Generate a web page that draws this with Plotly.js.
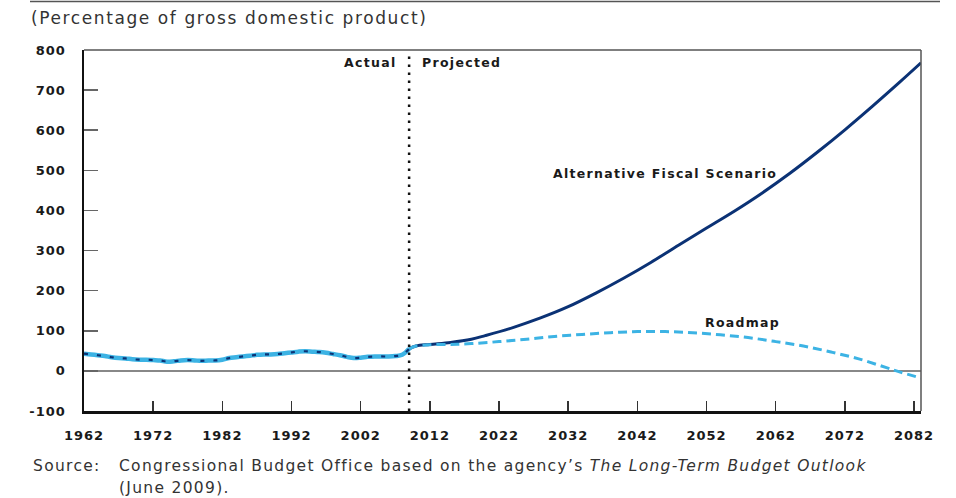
<!DOCTYPE html>
<html>
<head>
<meta charset="utf-8">
<script src="https://cdn.plot.ly/plotly-3.0.1.min.js"></script>
<style>
html,body{margin:0;padding:0;background:#fff;}
#chart{width:956px;height:498px;}
#chart .gtitle{letter-spacing:1.6px;}
#chart .xtick text, #chart .ytick text{letter-spacing:1px;}
</style>
</head>
<body>
<div id="chart"></div>
<script>
// ---- Data (percentage of GDP) ----
const histYears = [1962,1963,1964,1965,1966,1967,1968,1969,1970,1971,1972,1973,1974,1975,1976,1977,1978,1979,1980,1981,1982,1983,1984,1985,1986,1987,1988,1989,1990,1991,1992,1993,1994,1995,1996,1997,1998,1999,2000,2001,2002,2003,2004,2005,2006,2007,2008,2009];
const histValues = [43,41,39,37,34,32,31,29,28,28,27,26,23,24,26,27,26,25,26,26,28,32,34,36,38,40,41,41,42,44,46,48,49,48,47,45,42,39,35,32,33,35,36,36,36,37,40,55];

const altYears = [2009,2010,2012,2015,2018,2020,2024,2028,2032,2036,2040,2044,2048,2052,2056,2060,2064,2068,2072,2076,2080,2083];
const altValues = [55,62,66,71,79,88,108,132,160,194,231,271,314,356,398,443,492,545,601,660,721,768];

const roadYears = [2009,2010,2012,2015,2018,2022,2026,2030,2034,2038,2042,2046,2050,2054,2058,2062,2066,2070,2074,2078,2080,2083];
const roadValues = [55,62,65,66,68,73,79,86,91,95,98,98,95,90,83,73,62,47,30,8,-3,-18];

const xTickVals = [1962,1972,1982,1992,2002,2012,2022,2032,2042,2052,2062,2072,2082];
const yTickVals = [-100,0,100,200,300,400,500,600,700,800];
const yTickText = ['-100','0','100','200','300','400','500','600','700','800'];

const actualEnd = histYears[histYears.length - 1];

// ---- Styles ----
const navy = '#0b3275';
const lightBlue = '#3cb3e4';
const fam = 'DejaVu Sans, Verdana, sans-serif';
const tickFont = {family: fam, size: 13, color: '#1a1a1a', weight: 'bold'};
const labelFont = {family: fam, size: 12.5, color: '#1a1a1a', weight: 'bold'};
const textFont = {family: fam, size: 15.5, color: '#333'};
const sp = t => '<span style="letter-spacing:1.3px">' + t + '</span>';

const traces = [
  {x: histYears, y: histValues, mode: 'lines', line: {color: lightBlue, width: 4.5, shape: 'spline', smoothing: 1}, hoverinfo: 'skip'},
  {x: histYears, y: histValues, mode: 'lines', line: {color: navy, width: 2.2, dash: '4px,9px', shape: 'spline', smoothing: 1}, hoverinfo: 'skip'},
  {x: altYears, y: altValues, mode: 'lines', line: {color: navy, width: 3, shape: 'spline', smoothing: 1}},
  {x: roadYears, y: roadValues, mode: 'lines', line: {color: lightBlue, width: 3, dash: '9px,5px', shape: 'spline', smoothing: 1}}
];

const px = v => (v - 84) / 837;
const py = v => (411 - v) / 361;

const layout = {
  width: 956, height: 498,
  margin: {l: 84, r: 35, t: 50, b: 87},
  paper_bgcolor: '#fff', plot_bgcolor: '#fff',
  showlegend: false,
  title: {
    text: '(Percentage of gross domestic product)',
    font: {family: fam, size: 17, color: '#333'},
    xref: 'container', yref: 'container',
    x: 31/956, xanchor: 'left', y: 1 - 18/498, yanchor: 'middle'
  },
  xaxis: {
    range: [1962, 2083],
    tickmode: 'array', tickvals: xTickVals,
    ticks: 'inside', ticklen: 10, tickwidth: 1.5, tickcolor: '#333',
    showgrid: false, zeroline: false,
    showline: true, linecolor: '#111', linewidth: 2.5,
    tickfont: tickFont, ticklabelstandoff: 11,
    fixedrange: true
  },
  yaxis: {
    range: [-100, 800],
    tickmode: 'array', tickvals: yTickVals, ticktext: yTickText,
    ticks: 'inside', ticklen: 14, tickwidth: 1.5, tickcolor: '#666',
    showgrid: false,
    zeroline: true, zerolinecolor: '#888', zerolinewidth: 1.5,
    showline: true, linecolor: '#111', linewidth: 2.5,
    tickfont: tickFont, ticklabelstandoff: 13,
    fixedrange: true
  },
  shapes: [
    {type: 'line', xref: 'paper', yref: 'paper', x0: 0, x1: 1, y0: 1, y1: 1, line: {color: '#555', width: 1.5}},
    {type: 'line', xref: 'paper', yref: 'paper', x0: 1, x1: 1, y0: 0, y1: 1, line: {color: '#555', width: 1.5}},
    {type: 'line', xref: 'x', yref: 'paper', x0: actualEnd, x1: actualEnd, y0: 0, y1: 0.985, line: {color: '#111', width: 2.5, dash: '2.5px,5.5px'}},
    {type: 'line', xref: 'paper', yref: 'paper', x0: px(30), x1: px(940), y0: py(1.5), y1: py(1.5), line: {color: '#555', width: 1.5}}
  ],
  annotations: [
    {text: sp('Actual'), xref: 'paper', yref: 'paper', x: px(398), y: py(62), xanchor: 'right', yanchor: 'middle', showarrow: false, font: labelFont},
    {text: sp('Projected'), xref: 'paper', yref: 'paper', x: px(420), y: py(62), xanchor: 'left', yanchor: 'middle', showarrow: false, font: labelFont},
    {text: sp('Alternative Fiscal Scenario'), xref: 'paper', yref: 'paper', x: px(551), y: py(173), xanchor: 'left', yanchor: 'middle', showarrow: false, font: labelFont},
    {text: sp('Roadmap'), xref: 'paper', yref: 'paper', x: px(703), y: py(322), xanchor: 'left', yanchor: 'middle', showarrow: false, font: labelFont},
    {text: sp('Source:'), xref: 'paper', yref: 'paper', x: px(31), y: py(466), xanchor: 'left', yanchor: 'middle', showarrow: false, font: textFont},
    {text: sp('Congressional Budget Office based on the agency\u2019s <i>The Long-Term Budget Outlook</i>'), xref: 'paper', yref: 'paper', x: px(117), y: py(466), xanchor: 'left', yanchor: 'middle', showarrow: false, font: textFont},
    {text: sp('(June 2009).'), xref: 'paper', yref: 'paper', x: px(117), y: py(488), xanchor: 'left', yanchor: 'middle', showarrow: false, font: textFont}
  ]
};

Plotly.newPlot('chart', traces, layout, {staticPlot: true, displayModeBar: false});
</script>
</body>
</html>
